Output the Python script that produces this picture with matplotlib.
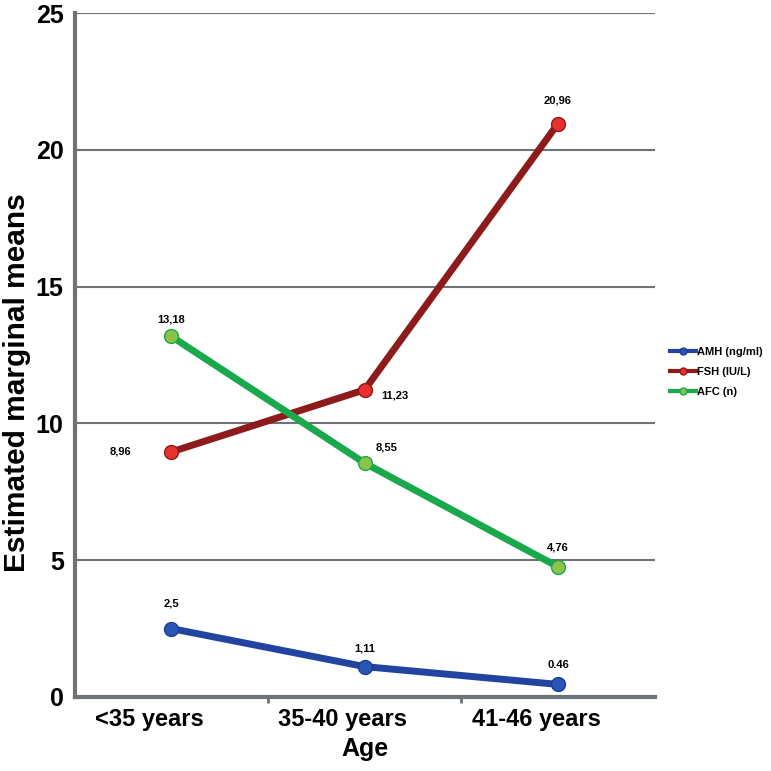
import matplotlib.pyplot as plt
import matplotlib.transforms as mtransforms
from matplotlib.lines import Line2D

groups = ['<35 years', '35-40 years', '41-46 years']
amh = [2.5, 1.11, 0.46]
fsh = [8.96, 11.23, 20.96]
afc = [13.18, 8.55, 4.76]
amh_lbl = ['2,5', '1,11', '0.46']
fsh_lbl = ['8,96', '11,23', '20,96']
afc_lbl = ['13,18', '8,55', '4,76']

plt.rcParams['font.family'] = ['Liberation Sans', 'DejaVu Sans']

fig = plt.figure(figsize=(7.71, 7.71), dpi=100)
ax = fig.add_axes([0.097, 0.096, 0.752, 0.887])

x = list(range(len(groups)))
styles = [
    (amh, 'AMH (ng/ml)', '#2244a0', '#2a56b8', '#1d3d92'),
    (fsh, 'FSH (IU/L)', '#8e1b1b', '#e8302c', '#8e1b1b'),
    (afc, 'AFC (n)', '#19a84b', '#8cc24a', '#19a84b'),
]
handles = []
for vals, name, c, fc, ec in styles:
    ax.plot(x, vals, color=c, lw=5, marker='o', ms=10, mfc=fc, mec=ec, zorder=3)
    handles.append(Line2D([], [], color=c, lw=3, marker='o', ms=5, mfc=fc, mec=ec, label=name))

# value labels, offsets in points from the marker
kw = dict(fontsize=8, fontweight='bold', ha='center', va='center', textcoords='offset points')
amh_off = [(0, 18), (0, 13), (0, 14)]
afc_off = [(0, 12), (16, 11), (0, 14)]
fsh_off = [(-37, 0), (22, -4), (0, 17)]
for i in x:
    ax.annotate(amh_lbl[i], (i, amh[i]), xytext=amh_off[i], **kw)
    ax.annotate(afc_lbl[i], (i, afc[i]), xytext=afc_off[i], **kw)
    ax.annotate(fsh_lbl[i], (i, fsh[i]), xytext=fsh_off[i], **kw)

ax.set_xlim(-0.5, 2.5)
ax.set_ylim(0, 25)
ax.set_yticks([0, 5, 10, 15, 20, 25])
ax.set_xticks(x)
ax.set_xticklabels(groups)
ax.tick_params(axis='x', length=0, labelsize=17, pad=8)
ax.tick_params(axis='y', length=0, labelsize=18, pad=8)
shift = mtransforms.ScaledTranslation(-22 / 100, 0, fig.dpi_scale_trans)
for t in ax.get_xticklabels():
    t.set_transform(t.get_transform() + shift)
for t in ax.get_xticklabels() + ax.get_yticklabels():
    t.set_fontweight('bold')
ax.set_xticks([0.5, 1.5], minor=True)
ax.tick_params(axis='x', which='minor', length=4, color='#6e7378', width=2)

ax.yaxis.grid(True, color='#6e7378', lw=1.5)
ax.set_axisbelow(True)
for s in ['top', 'right']:
    ax.spines[s].set_visible(False)
for s in ['left', 'bottom']:
    ax.spines[s].set_color('#6e7378')
    ax.spines[s].set_linewidth(3)

ax.set_xlabel('Age', fontsize=18, fontweight='bold', labelpad=4)
ax.set_ylabel('Estimated marginal means', fontsize=21.5, fontweight='bold')
ax.yaxis.set_label_coords(-0.076, 0.46)

ax.legend(handles=handles, loc='center left', bbox_to_anchor=(1.01, 0.475), frameon=False,
          prop={'size': 8, 'weight': 'bold'}, handlelength=2.3,
          handletextpad=0.1, labelspacing=0.9)

fig.savefig('out.png', dpi=100)
